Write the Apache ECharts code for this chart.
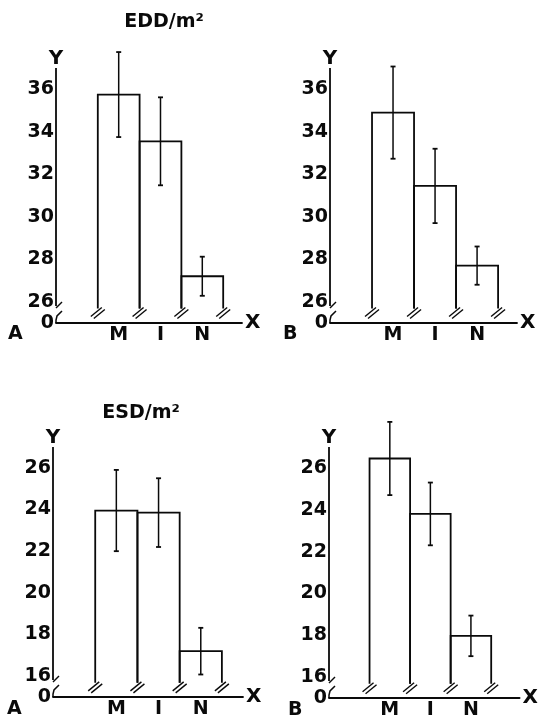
<!DOCTYPE html>
<html>
<head>
<meta charset="utf-8">
<script src="https://cdn.jsdelivr.net/npm/echarts@6/dist/echarts.min.js"></script>
<style>
html,body{margin:0;padding:0;background:#fff;}
#chart{width:539px;height:720px;}
</style>
</head>
<body>
<div id="chart"></div>
<script>
// ---- data ----
const categories = ['M', 'I', 'N'];
const eddA = [35.75, 33.55, 27.2];
const eddAErr = [2.0, 2.07, 0.92];
const eddB = [34.9, 31.45, 27.7];
const eddBErr = [2.17, 1.75, 0.9];
const esdA = [23.95, 23.85, 17.2];
const esdAErr = [1.95, 1.65, 1.12];
const esdB = [26.45, 23.8, 17.97];
const esdBErr = [1.75, 1.5, 0.97];
const eddTicks = [26, 28, 30, 32, 34, 36];
const esdTicks = [16, 18, 20, 22, 24, 26];
const eddRange = [25, 37];
const esdRange = [15, 27];

// ---- layout / style ----
const FONT = "'DejaVu Sans', sans-serif";
const TFONT = "bold 19px 'DejaVu Sans', sans-serif";
const BLACK = '#0a0a0a';
const grids = [
  {left: 56, top: 68, width: 186, height: 255, xMax: 4.45, range: eddRange, ticks: eddTicks},
  {left: 330, top: 68, width: 187, height: 255, xMax: 4.45, range: eddRange, ticks: eddTicks},
  {left: 53, top: 447, width: 190, height: 250, xMax: 4.5, range: esdRange, ticks: esdTicks},
  {left: 329, top: 447, width: 196, height: 252, xMax: 4.7, range: esdRange, ticks: esdTicks}
];
const panels = [
  [eddA, eddAErr], [eddB, eddBErr], [esdA, esdAErr], [esdB, esdBErr]
];

const labelStyle = {fontFamily: FONT, fontSize: 19, fontWeight: 'bold', color: BLACK};

function line(x1, y1, x2, y2, w) {
  return {type: 'line', shape: {x1, y1, x2, y2}, style: {stroke: BLACK, lineWidth: w || 1.5}};
}
function breakMark(x, y) {
  return [line(x - 7, y + 8, x + 4, y - 1, 1.4), line(x - 4, y + 10, x + 7, y + 1, 1.4)];
}

function barSeries(gi, vals, errs, yMin) {
  const n = vals.length;
  return {
    type: 'custom', xAxisIndex: gi, yAxisIndex: gi,
    data: vals.map((v, i) => [i, v, errs[i]]),
    renderItem: function (params, api) {
      const i = api.value(0), v = api.value(1), e = api.value(2);
      const brk = yMin + 0.68;
      const lt = api.coord([i + 1, v]), rt = api.coord([i + 2, v]);
      const lb = api.coord([i + 1, brk]), rb = api.coord([i + 2, brk]);
      const hi = api.coord([i + 1.5, v + e]), lo = api.coord([i + 1.5, v - e]);
      const ch = [
        {type: 'polyline', shape: {points: [lb, lt, rt, rb]}, style: {stroke: BLACK, fill: null, lineWidth: 1.8}},
        line(hi[0], hi[1], lo[0], lo[1], 1.5),
        line(hi[0] - 2.5, hi[1], hi[0] + 2.5, hi[1], 1.8),
        line(lo[0] - 2.5, lo[1], lo[0] + 2.5, lo[1], 1.8)
      ].concat(breakMark(lb[0], lb[1]));
      if (i === n - 1) ch.push.apply(ch, breakMark(rb[0], rb[1]));
      return {type: 'group', children: ch};
    }
  };
}

function axisSeries(gi, range) {
  return {
    type: 'custom', xAxisIndex: gi, yAxisIndex: gi,
    data: [[0, range[0]]],
    silent: true,
    renderItem: function (params, api) {
      const top = api.coord([0, range[1]]);
      const bot = api.coord([0, range[0]]);
      const x = bot[0], y = bot[1];
      return {type: 'group', children: [
        line(x, top[1], x, y - 17, 1.8),
        line(x, y - 15, x + 6, y - 21, 1.4),
        {type: 'polyline', shape: {points: [[x + 6, y - 12], [x + 1, y - 7], [x, y - 3], [x, y]]},
          style: {stroke: BLACK, fill: null, lineWidth: 1.5}}
      ]};
    }
  };
}

const option = {
  backgroundColor: '#fff',
  animation: false,
  grid: grids.map(g => ({left: g.left, top: g.top, width: g.width, height: g.height})),
  xAxis: grids.map((g, gi) => ({
    type: 'value', gridIndex: gi, min: 0, max: g.xMax, interval: 0.5,
    name: 'X', nameLocation: 'end', nameGap: 3,
    nameTextStyle: Object.assign({}, labelStyle, {fontSize: 20}),
    axisLine: {show: true, lineStyle: {color: BLACK, width: 1.8}},
    axisTick: {show: false}, splitLine: {show: false},
    axisLabel: Object.assign({}, labelStyle, {
      margin: 3, showMinLabel: true, showMaxLabel: true,
      formatter: v => {
        const k = Math.round((v - 1.5) * 2);
        return (k >= 0 && k % 2 === 0 && k / 2 < categories.length) ? categories[k / 2] : '';
      }
    })
  })),
  yAxis: grids.map((g, gi) => ({
    type: 'value', gridIndex: gi, min: g.range[0], max: g.range[1], interval: 1,
    name: 'Y', nameLocation: 'end', nameGap: -1,
    nameTextStyle: Object.assign({}, labelStyle, {fontSize: 20}),
    axisLine: {show: false}, axisTick: {show: false}, splitLine: {show: false},
    axisLabel: Object.assign({}, labelStyle, {
      margin: 2, showMinLabel: true, showMaxLabel: true,
      formatter: v => v === g.range[0] ? '0' : (g.ticks.indexOf(v) >= 0 ? String(v) : '')
    })
  })),
  series: panels.map((p, gi) => barSeries(gi, p[0], p[1], grids[gi].range[0]))
    .concat(grids.map((g, gi) => axisSeries(gi, g.range))),
  graphic: [
    {type: 'text', style: {text: 'EDD/m²', x: 164, y: 22, textAlign: 'center', textVerticalAlign: 'middle', font: TFONT, fill: BLACK}},
    {type: 'text', style: {text: 'ESD/m²', x: 141, y: 413, textAlign: 'center', textVerticalAlign: 'middle', font: TFONT, fill: BLACK}},
    {type: 'text', style: {text: 'A', x: 8, y: 334, textVerticalAlign: 'middle', font: TFONT, fill: BLACK}},
    {type: 'text', style: {text: 'B', x: 283, y: 334, textVerticalAlign: 'middle', font: TFONT, fill: BLACK}},
    {type: 'text', style: {text: 'A', x: 7, y: 709, textVerticalAlign: 'middle', font: TFONT, fill: BLACK}},
    {type: 'text', style: {text: 'B', x: 288, y: 710, textVerticalAlign: 'middle', font: TFONT, fill: BLACK}}
  ]
};

const chart = echarts.init(document.getElementById('chart'), null, {renderer: 'canvas'});
chart.setOption(option);
</script>
</body>
</html>
